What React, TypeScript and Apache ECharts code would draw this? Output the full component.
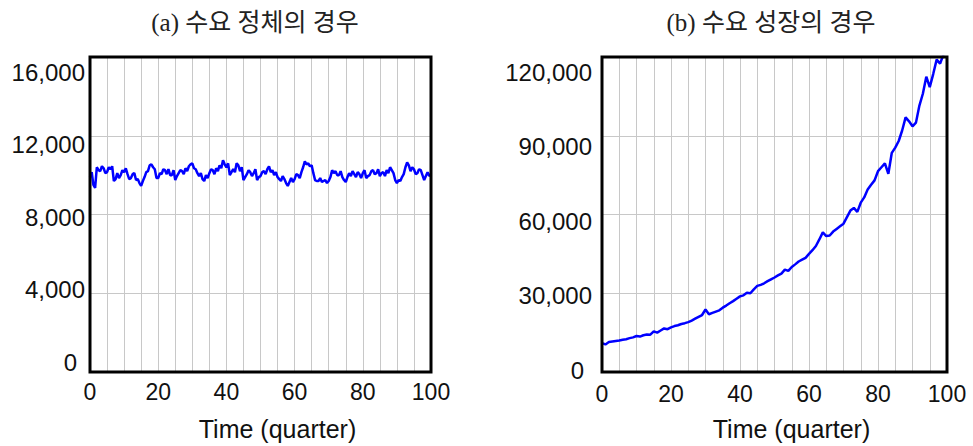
import React, { useEffect, useRef } from "react";
import * as echarts from "echarts";

// time in quarters, half-quarter readings for the stagnant case
const TIME_A = Array.from({ length: 201 }, (_, i) => i / 2);
const TIME_B = Array.from({ length: 101 }, (_, i) => i);

const STAGNANT = [
  9900, 10150, 9500, 9350, 10400, 10250, 10200, 10450, 10350, 10100,
  10150, 10400, 10300, 10450, 9700, 9800, 10100, 9850, 10000, 10250,
  10150, 10350, 10050, 9800, 9850, 10050, 10100, 9750, 9800, 9600,
  9450, 9700, 9900, 10150, 10200, 10500, 10550, 10400, 10300, 9850,
  9850, 10100, 10050, 10300, 10250, 10050, 10300, 10000, 10000, 10250,
  9750, 9950, 10100, 10250, 10200, 10050, 10350, 10200, 10450, 10550,
  10600, 10350, 10300, 10100, 9950, 10100, 9800, 9700, 10000, 9850,
  10100, 10300, 10250, 10050, 10350, 10200, 10500, 10350, 10750, 10550,
  10400, 10600, 10000, 10150, 10300, 10150, 10600, 10500, 10200, 10400,
  9750, 9900, 10050, 10250, 10150, 9950, 10100, 10300, 9750, 9900,
  9950, 10150, 10200, 10050, 10300, 10450, 10150, 10250, 10000, 10150,
  9900, 9800, 9700, 9950, 9800, 9600, 9450, 9650, 9850, 9650,
  9800, 10050, 10000, 9850, 10150, 10400, 10700, 10550, 10600, 10450,
  10500, 10100, 9750, 9700, 9700, 9850, 9650, 9700, 9750, 9600,
  9700, 9900, 10250, 10100, 10200, 10000, 10000, 10200, 9900, 9750,
  9650, 9900, 10100, 9950, 10200, 10050, 9900, 10150, 10050, 9850,
  10100, 10250, 9850, 9950, 10000, 10200, 10250, 10050, 10100, 10300,
  9950, 10100, 10150, 9950, 10250, 10100, 10400, 10250, 10100, 9750,
  9600, 9750, 9700, 9900, 10050, 10400, 10650, 10500, 10200, 10400,
  10300, 10050, 10100, 10300, 10250, 10000, 9750, 9950, 10150, 9950,
  10050,
];

const GROWTH = [
  11000, 10500, 11400, 11600, 11800, 12000, 12300, 12500, 12900, 13200,
  13700, 13500, 14000, 14300, 14200, 15500, 15000, 15800, 16600, 16300,
  17000, 17500, 17800, 18300, 18600, 19000, 19600, 20300, 21000, 21700,
  23800, 22000, 22500, 23000, 23500, 24500, 25300, 26200, 27000, 27900,
  28800, 29200, 30200, 30000, 31500, 32800, 33200, 33800, 34600, 35300,
  36000, 36800, 37500, 39000, 38500, 40000, 41000, 42100, 42800, 43500,
  45000, 46400, 48000, 50500, 53200, 51800, 52000, 53500, 54500, 55500,
  56500, 59000, 61500, 62500, 61000, 64500, 66500, 69500, 71300, 73000,
  76500, 78000, 79500, 75500, 83500, 85500, 88000, 92000, 97000, 95500,
  93600, 95000, 101500, 106000, 112500, 108500, 113500, 119000, 117500, 121000,
  123000,
];

const TITLE_A = "(a) 수요 정체의 경우";
const TITLE_B = "(b) 수요 성장의 경우";
const X_NAME = "Time (quarter)";

const Y_A = { min: 0, max: 16000, interval: 4000 };
const Y_B = { min: 0, max: 120000, interval: 30000 };
const X_RANGE = { min: 0, max: 100, interval: 5, labelEvery: 20 };

const SANS = "'Liberation Sans', Arial, sans-serif";
const TITLE_FONT = "'Liberation Serif', 'Noto Sans CJK KR', serif";
const GRID_COLOR = "#c8c8c8";
const TEXT_COLOR = "#111";

export default function App() {
  const ref = useRef<HTMLDivElement>(null);

  useEffect(() => {
    if (!ref.current) return;
    const chart = echarts.init(ref.current, undefined, { renderer: "svg" });

    const plotGrid = (left: number, right: number, top: number, bottom: number) => ({
      left, right, top, bottom,
      show: true,
      borderColor: "#000",
      borderWidth: 3,
      backgroundColor: "transparent",
      z: 5,
    });
    const labelGrid = (left: number, right: number, top: number, bottom: number) => ({
      left, right, top, bottom, show: false,
    });

    const xPlot = (gridIndex: number, margin: number) => ({
      type: "value",
      gridIndex,
      min: X_RANGE.min,
      max: X_RANGE.max,
      interval: X_RANGE.interval,
      axisLine: { show: false },
      axisTick: { show: false },
      splitLine: { show: true, lineStyle: { color: GRID_COLOR, width: 1 } },
      axisLabel: {
        margin,
        fontSize: 23,
        color: TEXT_COLOR,
        fontFamily: SANS,
        formatter: (v: number) => (v % X_RANGE.labelEvery === 0 ? String(v) : ""),
      },
      name: X_NAME,
      nameLocation: "middle",
      nameGap: 44,
      nameTextStyle: { fontSize: 25, color: TEXT_COLOR, fontFamily: SANS, padding: [0, 0, 0, 34] },
    });
    const xHidden = (gridIndex: number) => ({
      type: "value", gridIndex, min: 0, max: 100, show: false,
    });
    const yPlot = (gridIndex: number, r: { min: number; max: number; interval: number }) => ({
      type: "value",
      gridIndex,
      min: r.min,
      max: r.max,
      interval: r.interval,
      axisLine: { show: false },
      axisTick: { show: false },
      axisLabel: { show: false },
      splitLine: { show: true, lineStyle: { color: GRID_COLOR, width: 1 } },
    });
    const yLabels = (gridIndex: number, r: { min: number; max: number; interval: number }, margin: number) => ({
      type: "value",
      gridIndex,
      min: r.min,
      max: r.max,
      interval: r.interval,
      axisLine: { show: false },
      axisTick: { show: false },
      splitLine: { show: false },
      axisLabel: {
        margin,
        fontSize: 24,
        color: TEXT_COLOR,
        fontFamily: SANS,
        formatter: (v: number) =>
          v === 0 ? "{z|0}" : "{n|" + v.toLocaleString("en-US") + "}",
        rich: {
          z: { fontSize: 24, color: TEXT_COLOR, fontFamily: SANS, padding: [0, 8, 0, 0] },
          n: { fontSize: 24, color: TEXT_COLOR, fontFamily: SANS },
        },
      },
    });

    chart.setOption({
      animation: false,
      backgroundColor: "#fff",
      grid: [
        plotGrid(90, 542, 57, 69),
        labelGrid(90, 542, 72, 84),
        plotGrid(602, 26, 57, 66),
        labelGrid(602, 26, 72, 76),
      ],
      xAxis: [xPlot(0, 8), xHidden(1), xPlot(2, 10), xHidden(3)],
      yAxis: [yPlot(0, Y_A), yLabels(1, Y_A, 5), yPlot(2, Y_B), yLabels(3, Y_B, 10)],
      series: [
        {
          type: "line",
          xAxisIndex: 0,
          yAxisIndex: 0,
          data: TIME_A.map((t, i) => [t, STAGNANT[i]]),
          showSymbol: false,
          lineStyle: { color: "#0000ff", width: 2.5 },
          z: 3,
        },
        {
          type: "line",
          xAxisIndex: 2,
          yAxisIndex: 2,
          data: TIME_B.map((t, i) => [t, GROWTH[i]]),
          showSymbol: false,
          lineStyle: { color: "#0000ff", width: 2.5 },
          z: 3,
        },
      ],
      graphic: [
        {
          type: "text",
          x: 255,
          y: 22,
          style: {
            text: TITLE_A,
            fontSize: 25,
            fontFamily: TITLE_FONT,
            fill: "#222",
            align: "center",
            verticalAlign: "middle",
          },
        },
        {
          type: "text",
          x: 771,
          y: 22,
          style: {
            text: TITLE_B,
            fontSize: 25,
            fontFamily: TITLE_FONT,
            fill: "#222",
            align: "center",
            verticalAlign: "middle",
          },
        },
      ],
    });

    return () => chart.dispose();
  }, []);

  return (
    <div
      ref={ref}
      style={{ position: "fixed", left: 0, top: 0, width: 973, height: 446, background: "#fff" }}
    />
  );
}
